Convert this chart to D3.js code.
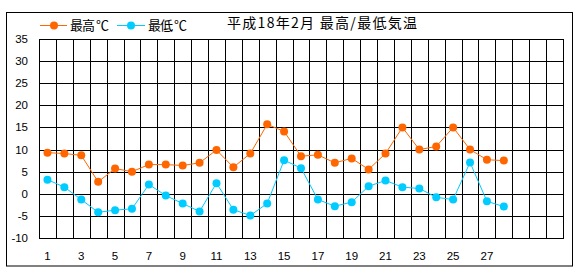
<!DOCTYPE html>
<html><head><meta charset="utf-8">
<script src="https://cdn.jsdelivr.net/npm/d3@7"></script>
<style>
html,body{margin:0;padding:0;background:#fff;}
svg{display:block;}
text{font-family:"Liberation Sans",Arial,sans-serif;}
.cjk{font-family:"Noto Sans CJK JP","Noto Sans CJK SC",sans-serif;}
</style></head>
<body>
<svg id="chart" width="580" height="280"></svg>
<script>
const days = d3.range(1, 29);
const slots = d3.range(1, 32);
const maxT = [9.3, 9.1, 8.7, 2.7, 5.7, 5.0, 6.6, 6.6, 6.4, 7.0, 9.9, 6.0, 9.1, 15.7, 14.1, 8.5, 8.8, 7.0, 8.0, 5.5, 9.1, 15.0, 10.0, 10.7, 15.0, 10.0, 7.7, 7.5];
const minT = [3.2, 1.5, -1.3, -4.2, -3.7, -3.4, 2.1, -0.4, -2.2, -4.0, 2.4, -3.6, -4.9, -2.2, 7.6, 5.8, -1.3, -2.8, -1.9, 1.7, 3.0, 1.5, 1.2, -0.8, -1.3, 7.1, -1.7, -2.9];
const yTicks = [-10, -5, 0, 5, 10, 15, 20, 25, 30, 35];
const xTickLabels = [1, 3, 5, 7, 9, 11, 13, 15, 17, 19, 21, 23, 25, 27];
const seriesNames = ["最高 ℃", "最低 ℃"];
const title = "平成18年2月 最高/最低気温";

(function () {
const colors = ["#FF6600", "#00CCFF"];
const svg = d3.select("#chart");

// outer frame
svg.append("rect").attr("x", 6.5).attr("y", 12.5).attr("width", 566).attr("height", 253.5)
  .attr("fill", "none").attr("stroke", "#000").attr("stroke-width", 1);

const pL = 39, pR = 563, pT = 39, pB = 238;
const x = d3.scaleBand().domain(slots).range([pL, pR]).padding(0);
const y = d3.scaleLinear().domain([-10, 35]).range([pB, pT]);

const g = svg.append("g");
g.selectAll("line.h").data(yTicks).join("line").attr("class", "h")
  .attr("x1", pL).attr("x2", pR + 1)
  .attr("y1", d => Math.round(y(d)) + 0.5).attr("y2", d => Math.round(y(d)) + 0.5)
  .attr("stroke", "#000").attr("stroke-width", 1);
const edges = slots.map(d => x(d)).concat([pR]);
g.selectAll("line.v").data(edges).join("line").attr("class", "v")
  .attr("x1", d => Math.round(d) + 0.5).attr("x2", d => Math.round(d) + 0.5)
  .attr("y1", Math.round(y(35)) + 0.5).attr("y2", Math.round(y(-10)) + 0.5)
  .attr("stroke", "#000").attr("stroke-width", 1);

svg.selectAll("text.yl").data(yTicks).join("text").attr("class", "yl")
  .attr("x", 28).attr("y", d => y(d)).attr("dy", "0.35em")
  .attr("text-anchor", "end").attr("font-size", 11.5).attr("fill", "#000")
  .text(d => d);
svg.selectAll("text.xl").data(xTickLabels).join("text").attr("class", "xl")
  .attr("x", d => x(d) + x.bandwidth() / 2).attr("y", 256).attr("dy", "0.35em")
  .attr("text-anchor", "middle").attr("font-size", 11.5).attr("fill", "#000")
  .text(d => d);

const cx = d => x(d) + x.bandwidth() / 2;
[maxT, minT].forEach((vals, si) => {
  const pts = days.map((d, i) => [cx(d), y(vals[i])]);
  svg.append("path").attr("d", d3.line()(pts)).attr("fill", "none")
    .attr("stroke", colors[si]).attr("stroke-width", 1);
  svg.append("g").selectAll("circle").data(pts).join("circle")
    .attr("cx", p => p[0]).attr("cy", p => p[1]).attr("r", 4)
    .attr("fill", colors[si]);
});

const legX = [[40, 67, 54, 70], [117, 145, 131, 148]];
seriesNames.forEach((name, si) => {
  const [x1, x2, mx, tx] = legX[si];
  svg.append("line").attr("x1", x1).attr("x2", x2).attr("y1", 25.5).attr("y2", 25.5)
    .attr("stroke", colors[si]).attr("stroke-width", 1);
  svg.append("circle").attr("cx", mx).attr("cy", 25.5).attr("r", 4).attr("fill", colors[si]);
  svg.append("text").attr("class", "cjk").attr("x", tx).attr("y", 25).attr("dy", "0.38em")
    .attr("font-size", 13).attr("fill", "#000")
    .attr("textLength", 39).attr("lengthAdjust", "spacing").text(name);
});
svg.append("text").attr("class", "cjk").attr("x", 227).attr("y", 23).attr("dy", "0.38em")
  .attr("font-size", 14).attr("fill", "#000")
  .attr("textLength", 190).attr("lengthAdjust", "spacing").text(title);
})();
</script>
</body></html>
